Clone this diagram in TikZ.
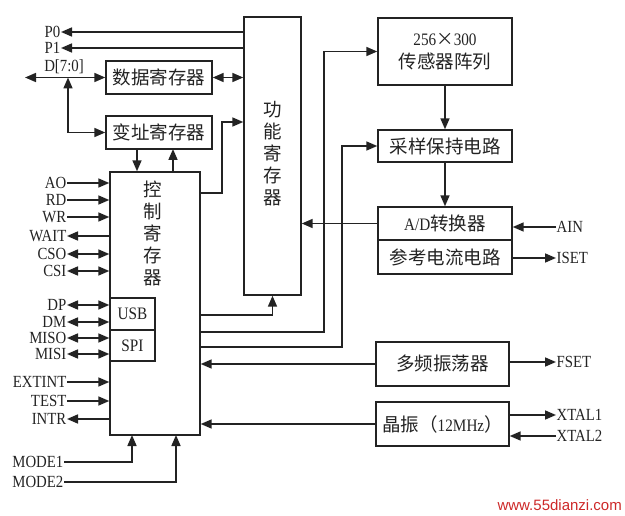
\documentclass[tikz,border=0pt]{standalone}
\usepackage{fontspec}
\setmainfont{Liberation Serif}[FakeStretch=0.87]
\newfontfamily\cjk{Noto Sans CJK SC}
\newfontfamily\wmfont{Liberation Sans}
\usetikzlibrary{arrows.meta}
\definecolor{wmred}{RGB}{205,40,40}
\definecolor{ink}{RGB}{35,35,35}
\begin{document}
\begin{tikzpicture}[x=1pt,y=-1pt,
  every node/.style={text=ink},
  box/.style={draw=ink, line width=1.4pt, rectangle, inner sep=0pt, font=\fontsize{17.5}{20}\selectfont},
  lbl/.style={inner sep=0.5pt, font=\fontsize{17}{18}\selectfont},
  cj/.style={font=\cjk\fontsize{18.5}{20}\selectfont},
  vtxt/.style={inner sep=0pt, align=center, font=\cjk\fontsize{18.5}{22}\selectfont},
  ln/.style={draw=ink, line width=1.7pt},
  >={Triangle[length=11pt,width=9pt]}]
\useasboundingbox (0,0) rectangle (625,516);

% boxes
\node[box, minimum width=57pt, minimum height=278pt] (func) at (272.5,156) {};
\node[vtxt] (functxt) at (273,154) {功\\能\\寄\\存\\器};
\node[box, minimum width=90pt, minimum height=263pt] (ctrl) at (155,303.5) {};
\node[vtxt] (ctrltxt) at (153,233.5) {控\\制\\寄\\存\\器};
\node[box, minimum width=45pt, minimum height=32pt] (usb) at (132.5,314) {USB};
\node[box, minimum width=45pt, minimum height=31pt] (spi) at (132.5,345.5) {SPI};
\node[box, cj, minimum width=106pt, minimum height=33pt] (data) at (159,77.5) {数据寄存器};
\node[box, cj, minimum width=106pt, minimum height=33pt] (addr) at (159,132.5) {变址寄存器};
\node[box, minimum width=134pt, minimum height=67pt, align=center, font=\fontsize{17.5}{23}\selectfont] (sensor) at (445,51.5) {256{\cjk ×}300\\{\cjk\fontsize{18.5}{23}\selectfont 传感器阵列}};
\node[box, cj, minimum width=134pt, minimum height=32pt] (sample) at (445,146) {采样保持电路};
\node[box, minimum width=134pt, minimum height=33pt] (ad) at (445,223.5) {A/D{\cjk\fontsize{18.5}{20}\selectfont 转换器}};
\node[box, cj, minimum width=134pt, minimum height=34pt] (ref) at (445,257) {参考电流电路};
\node[box, cj, minimum width=133pt, minimum height=44pt] (osc) at (442.5,364) {多频振荡器};
\node[box, minimum width=133pt, minimum height=44pt] (xtal) at (442.5,424) {{\cjk\fontsize{18.5}{20}\selectfont 晶振（}12MHz{\cjk\fontsize{18.5}{20}\selectfont ）}};

% top-left signals
\node[lbl, anchor=east] (p0) at (61,32) {P0};
\node[lbl, anchor=east] (p1) at (61,48) {P1};
\node[lbl] (d) at (64,67) {D[7:0]};
\draw[ln,->] (p0.east -| func.west) -- (p0.east);
\draw[ln,->] (p1.east -| func.west) -- (p1.east);
\coordinate (dl) at (25,77.5);
\coordinate (dj) at (68,77.5);
\draw[ln,<->] (dl) -- (data.west);
\draw[ln,<->] (dj) |- (addr.west);
\draw[ln,<->] (data.east) -- (data.east -| func.west);

% address register <-> control
\coordinate (a1) at (137,149);
\coordinate (a2) at (173,149);
\draw[ln,->] (a1) -- (a1 |- ctrl.north);
\draw[ln,->] (a2 |- ctrl.north) -- (a2);

% control -> function register
\coordinate (k1) at (222,193);
\coordinate (k2) at (222,122);
\draw[ln,->] (k1 -| ctrl.east) -- (k1) -- (k2) -- (k2 -| func.west);

% left signals
\node[lbl, anchor=east] (ao) at (67,183) {AO};
\node[lbl, anchor=east] (rd) at (67,200) {RD};
\node[lbl, anchor=east] (wr) at (67,217) {WR};
\node[lbl, anchor=east] (wait) at (67,236) {WAIT};
\node[lbl, anchor=east] (cso) at (67,254) {CSO};
\node[lbl, anchor=east] (csi) at (67,271) {CSI};
\node[lbl, anchor=east] (dp) at (67,305) {DP};
\node[lbl, anchor=east] (dm) at (67,322) {DM};
\node[lbl, anchor=east] (miso) at (67,338) {MISO};
\node[lbl, anchor=east] (misi) at (67,354) {MISI};
\node[lbl, anchor=east] (extint) at (67,382) {EXTINT};
\node[lbl, anchor=east] (test) at (67,401) {TEST};
\node[lbl, anchor=east] (intr) at (67,419) {INTR};
\draw[ln,->] (ao.east) -- (ao.east -| ctrl.west);
\draw[ln,->] (rd.east) -- (rd.east -| ctrl.west);
\draw[ln,->] (wr.east) -- (wr.east -| ctrl.west);
\draw[ln,<-] (wait.east) -- (wait.east -| ctrl.west);
\draw[ln,<->] (cso.east) -- (cso.east -| ctrl.west);
\draw[ln,<->] (csi.east) -- (csi.east -| ctrl.west);
\draw[ln,<->] (dp.east) -- (dp.east -| usb.west);
\draw[ln,<->] (dm.east) -- (dm.east -| usb.west);
\draw[ln,<->] (miso.east) -- (miso.east -| spi.west);
\draw[ln,<->] (misi.east) -- (misi.east -| spi.west);
\draw[ln,->] (extint.east) -- (extint.east -| ctrl.west);
\draw[ln,->] (test.east) -- (test.east -| ctrl.west);
\draw[ln,<-] (intr.east) -- (intr.east -| ctrl.west);

% mode inputs
\node[lbl, anchor=east] (m1) at (64,462) {MODE1};
\node[lbl, anchor=east] (m2) at (64,482) {MODE2};
\coordinate (m1x) at (132,435);
\coordinate (m2x) at (176,435);
\draw[ln,->] (m1.east) -| (m1x);
\draw[ln,->] (m2.east) -| (m2x);

% control -> right side
\coordinate (r1) at (273,315);
\coordinate (r2) at (324,332);
\coordinate (r3) at (342,347);
\draw[ln,->] (r1 -| ctrl.east) -| (func.south);
\draw[ln,->] (r2 -| ctrl.east) -- (r2) |- (sensor.west);
\draw[ln,->] (r3 -| ctrl.east) -- (r3) |- (sample.west);

% right chain
\draw[ln,->] (sensor.south) -- (sample.north);
\draw[ln,->] (sample.south) -- (ad.north);
\draw[ln,->] (ad.west) -- (ad.west -| func.east);
\draw[ln,->] (osc.west) -- (osc.west -| ctrl.east);
\draw[ln,->] (xtal.west) -- (xtal.west -| ctrl.east);

% right signals
\node[lbl, anchor=west] (ain) at (556,227) {AIN};
\node[lbl, anchor=west] (iset) at (556,258) {ISET};
\node[lbl, anchor=west] (fset) at (556,362) {FSET};
\node[lbl, anchor=west] (x1) at (556,415) {XTAL1};
\node[lbl, anchor=west] (x2) at (556,436) {XTAL2};
\draw[ln,->] (ain.west) -- (ain.west -| ad.east);
\draw[ln,->] (iset.west -| ref.east) -- (iset.west);
\draw[ln,->] (fset.west -| osc.east) -- (fset.west);
\draw[ln,->] (x1.west -| xtal.east) -- (x1.west);
\draw[ln,->] (x2.west) -- (x2.west -| xtal.east);

% watermark
\node[inner sep=0pt, anchor=east, text=wmred, font=\wmfont\fontsize{15}{15}\selectfont] (wm) at (622,505) {www.55dianzi.com};
\end{tikzpicture}
\end{document}
